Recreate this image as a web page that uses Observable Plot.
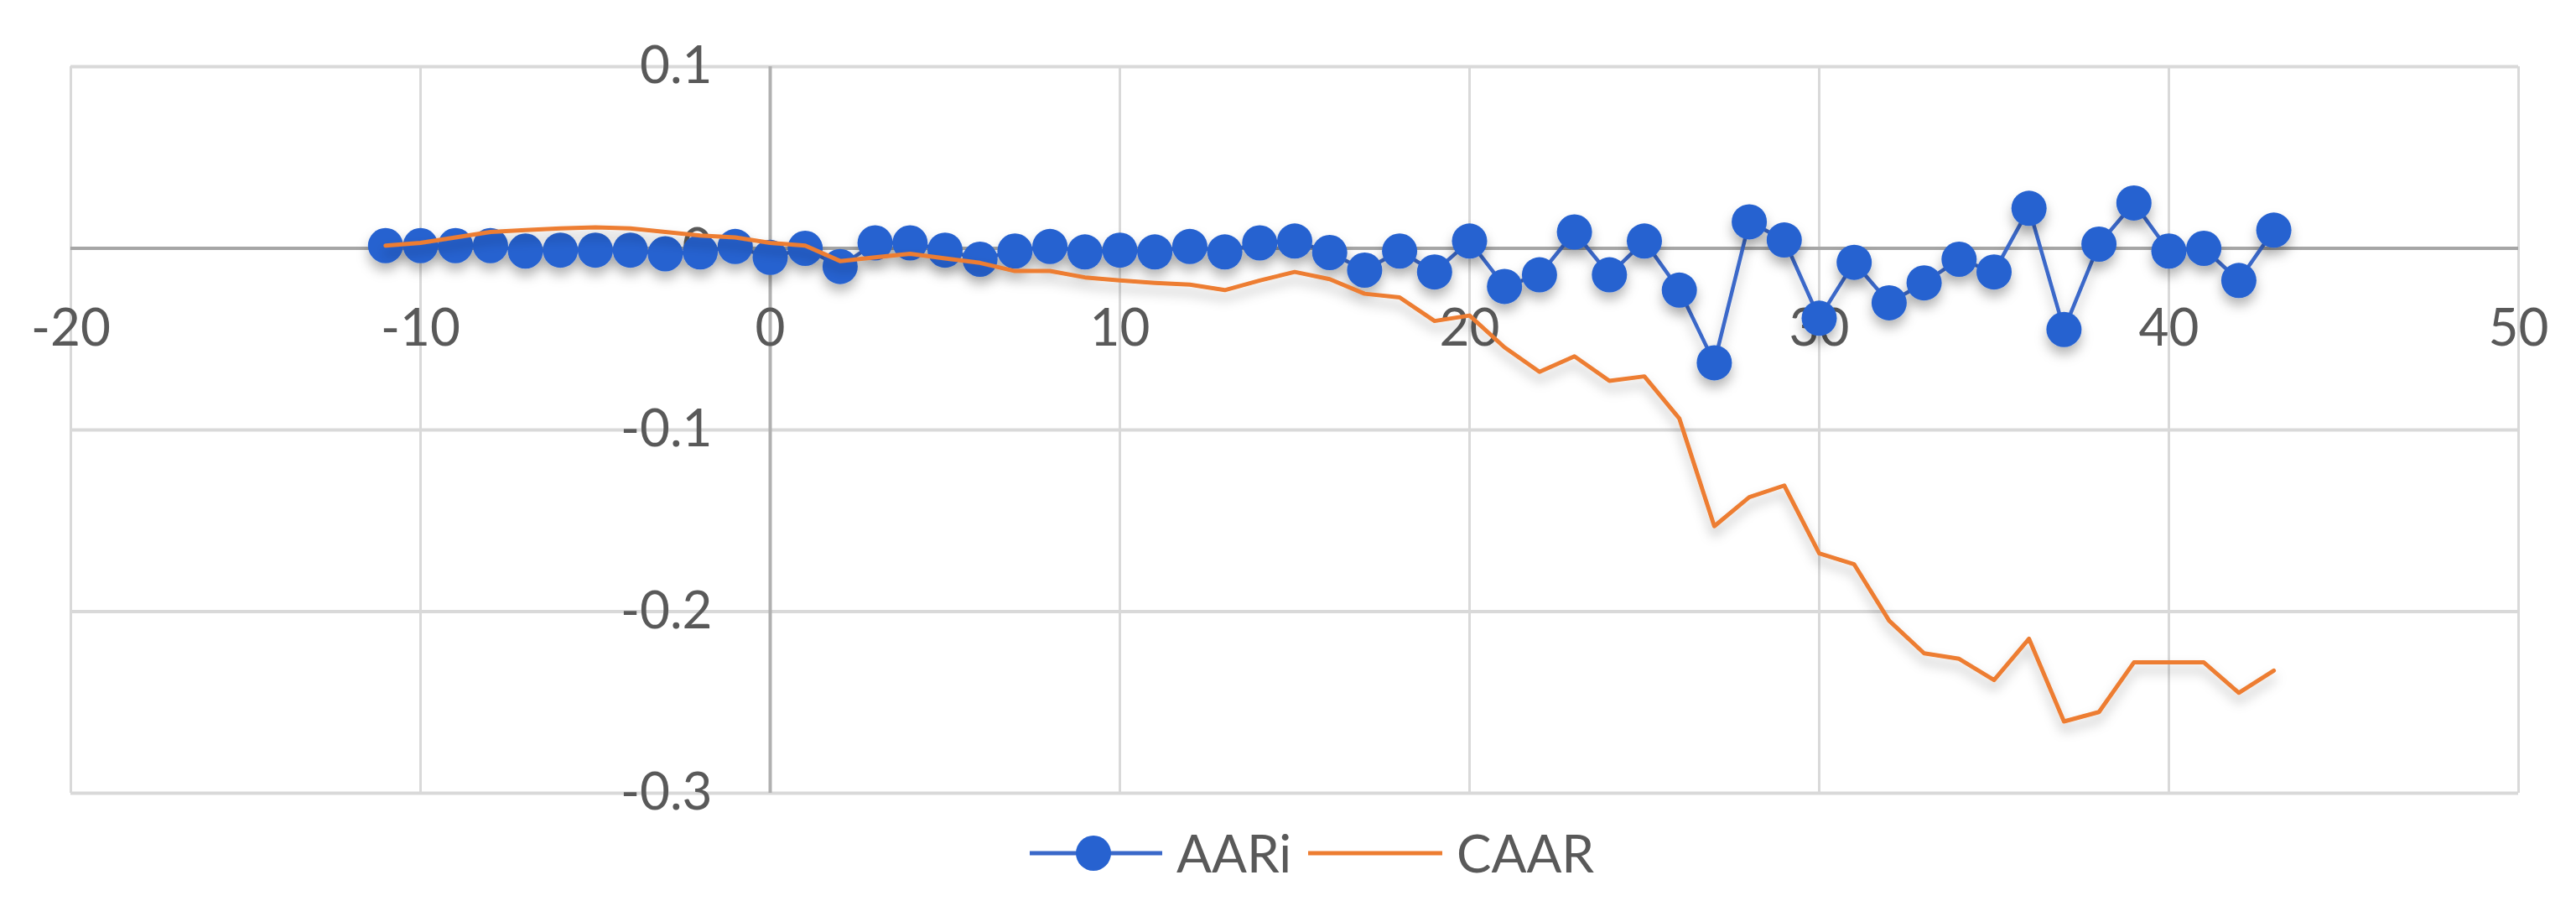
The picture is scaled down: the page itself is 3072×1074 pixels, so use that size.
<!DOCTYPE html>
<html>
<head>
<meta charset="utf-8">
<script src="https://cdn.jsdelivr.net/npm/d3@7"></script>
<script src="https://cdn.jsdelivr.net/npm/@observablehq/plot@0.6"></script>
<style>
  html, body { margin: 0; padding: 0; background: #ffffff; }
  #wrap { position: relative; width: 3072px; height: 1074px; overflow: hidden; font-family: Lato, "Open Sans", sans-serif; }
  #legend { position: absolute; left: 0; top: 980px; width: 3072px; height: 94px; }
  .lg { position: absolute; font-size: 62px; color: #595959; line-height: 1; }
</style>
</head>
<body>
<div id="wrap">
  <div id="chart"></div>
  <div id="legend"></div>
</div>
<script>
// ---- data ----
const eventDays = [-11,-10,-9,-8,-7,-6,-5,-4,-3,-2,-1,0,1,2,3,4,5,6,7,8,9,10,11,12,13,14,15,16,17,18,19,20,21,22,23,24,25,26,27,28,29,30,31,32,33,34,35,36,37,38,39,40,41,42,43];
const aari = [0.0015,0.0015,0.0015,0.0015,-0.0015,-0.001,-0.001,-0.001,-0.003,-0.002,0.001,-0.005,0.0,-0.010,0.003,0.003,-0.001,-0.006,-0.0015,0.001,-0.002,-0.001,-0.002,0.001,-0.002,0.003,0.004,-0.0023,-0.012,-0.0015,-0.013,0.004,-0.021,-0.0146,0.009,-0.0146,0.004,-0.023,-0.063,0.0146,0.0046,-0.0385,-0.0077,-0.030,-0.019,-0.006,-0.013,0.022,-0.0447,0.0023,0.025,-0.0015,0.0,-0.0177,0.010];
const caar = [0.0015,0.003,0.006,0.009,0.010,0.011,0.0115,0.011,0.009,0.007,0.006,0.003,0.0015,-0.007,-0.005,-0.003,-0.0055,-0.008,-0.0125,-0.0125,-0.016,-0.0177,-0.019,-0.020,-0.023,-0.0177,-0.013,-0.017,-0.025,-0.027,-0.040,-0.037,-0.0545,-0.068,-0.0595,-0.073,-0.0705,-0.0937,-0.153,-0.137,-0.1306,-0.168,-0.174,-0.205,-0.223,-0.226,-0.2377,-0.215,-0.2605,-0.2553,-0.228,-0.228,-0.228,-0.2447,-0.2325];
const seriesNames = ["AARi", "CAAR"];
const xTicks = [-20,-10,0,10,20,30,40,50];
const xTickLabels = ["-20","-10","0","10","20","30","40","50"];
const yTicks = [-0.3,-0.2,-0.1,0,0.1];
const yTickLabels = ["-0.3","-0.2","-0.1","0","0.1"];

const aariRows = eventDays.map((d, i) => ({day: d, value: aari[i]}));
const caarRows = eventDays.map((d, i) => ({day: d, value: caar[i]}));

const blue = "#2762d0";
const blueLine = "#3a68c9";
const orange = "#ED7D31";
const textColor = "#595959";
const fontFamily = "Lato, 'Open Sans', sans-serif";

const chart = Plot.plot({
  width: 3072,
  height: 980,
  marginLeft: 84,
  marginRight: 69,
  marginTop: 79,
  marginBottom: 35,
  style: {fontFamily, background: "#ffffff", overflow: "visible"},
  x: {domain: [-20, 50], axis: null},
  y: {domain: [-0.3, 0.1], axis: null},
  marks: [
    Plot.ruleX(xTicks, {stroke: "#d9d9d9", strokeWidth: 3}),
    Plot.ruleY(yTicks, {stroke: "#d9d9d9", strokeWidth: 4}),
    Plot.ruleY([0], {stroke: "#a6a6a6", strokeWidth: 4}),
    Plot.ruleX([0], {stroke: "#b0b0b0", strokeWidth: 4}),
    Plot.text(xTicks, {x: d => d, y: 0, dy: 96, text: (d, i) => xTickLabels[i], fontSize: 62, fill: textColor, textAnchor: "middle", lineAnchor: "middle"}),
    Plot.text(yTicks, {x: 0, y: d => d, dx: -69, text: (d, i) => yTickLabels[i], fontSize: 62, fill: textColor, textAnchor: "end", lineAnchor: "middle"}),
    Plot.line(aariRows, {x: "day", y: "value", stroke: blueLine, strokeWidth: 4.5}),
    Plot.dot(aariRows, {x: "day", y: "value", r: 21, fill: blue, stroke: null}),
    Plot.line(caarRows, {x: "day", y: "value", stroke: orange, strokeWidth: 5})
  ]
});

const svg = d3.select(chart);
svg.insert("defs", ":first-child").html(
  '<filter id="shadow" x="-10%" y="-10%" width="120%" height="140%">' +
  '<feDropShadow dx="0" dy="9" stdDeviation="7" flood-color="#000" flood-opacity="0.28"/></filter>'
);
svg.selectAll('g[aria-label="dot"], g[aria-label="line"]').attr("filter", "url(#shadow)");

document.getElementById("chart").appendChild(chart);

// ---- legend (below the SVG) ----
const legend = d3.select("#legend");
const lsvg = legend.append("svg").attr("width", 3072).attr("height", 94)
  .style("position", "absolute").style("left", "0px").style("top", "0px");
lsvg.append("line").attr("x1", 1228).attr("x2", 1386).attr("y1", 37).attr("y2", 37)
  .attr("stroke", blueLine).attr("stroke-width", 5);
lsvg.append("circle").attr("cx", 1304).attr("cy", 37).attr("r", 21).attr("fill", blue);
lsvg.append("line").attr("x1", 1560).attr("x2", 1720).attr("y1", 37).attr("y2", 37)
  .attr("stroke", orange).attr("stroke-width", 5);
legend.append("div").attr("class", "lg").style("left", "1403px").style("top", "5px").text(seriesNames[0]);
legend.append("div").attr("class", "lg").style("left", "1737px").style("top", "5px").text(seriesNames[1]);
</script>
</body>
</html>
